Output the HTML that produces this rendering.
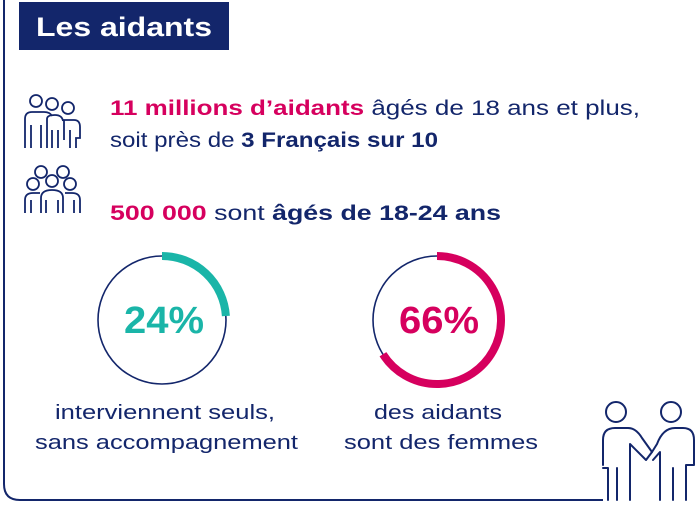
<!DOCTYPE html>
<html><head><meta charset="utf-8"><style>
html,body{margin:0;padding:0;background:#fff;}
svg{display:block;font-family:"Liberation Sans",sans-serif;}
</style></head><body>
<svg width="700" height="505" viewBox="0 0 700 505">
  <path d="M4 0 V484 Q4 500 20 500 H603" fill="none" stroke="#13266b" stroke-width="2"/>
  <rect x="19" y="2" width="210" height="48" fill="#13266b"/>
  <text x="36" y="36" font-size="27" font-weight="bold" fill="#fff" textLength="176" lengthAdjust="spacingAndGlyphs">Les aidants</text>

  <g fill="none" stroke="#13266b" stroke-width="1.8">
    <circle cx="36" cy="101" r="6"/><circle cx="52" cy="104" r="6"/><circle cx="68" cy="108" r="6"/>
    <path d="M25 148 V119 Q25 112 32 112 H44 Q50 112 52 116"/><path d="M31 125 V148 M41 125 V148"/>
    <path d="M47 148 V119 Q47 115 55 115 Q62 115 63 121"/><path d="M52 130 V148 M58 130 V148"/>
    <path d="M64 140 V120 H74 Q80 120 80 127 V138 H76 V148 M70 130 V148"/>
  </g>
  <g fill="none" stroke="#13266b" stroke-width="1.8">
    <circle cx="41" cy="172" r="6"/><circle cx="63" cy="172" r="6"/><circle cx="33" cy="184" r="6"/><circle cx="52" cy="181" r="6"/><circle cx="70" cy="184" r="6"/>
    <path d="M25 213 V200 Q25 193 33 193 H40 M31 200 V213"/>
    <path d="M41 213 V198 Q41 190 52 190 Q63 190 63 198 V213 M46 200 V213 M58 200 V213"/>
    <path d="M80 213 V200 Q80 193 72 193 H65 M74 200 V213"/>
  </g>

  <text x="110" y="115" font-size="21" fill="#13266b" textLength="530" lengthAdjust="spacingAndGlyphs"><tspan font-weight="bold" fill="#d6005e">11 millions d’aidants</tspan> âgés de 18 ans et plus,</text>
  <text x="110" y="147" font-size="21" fill="#13266b" textLength="328" lengthAdjust="spacingAndGlyphs">soit près de <tspan font-weight="bold">3 Français sur 10</tspan></text>
  <text x="110" y="220" font-size="21" fill="#13266b" textLength="391" lengthAdjust="spacingAndGlyphs"><tspan font-weight="bold" fill="#d6005e">500 000</tspan> sont <tspan font-weight="bold">âgés de 18-24 ans</tspan></text>

  <g id="donuts"></g>

  <text x="55" y="419" font-size="20" fill="#13266b" textLength="220" lengthAdjust="spacingAndGlyphs">interviennent seuls,</text>
  <text x="35" y="449" font-size="20" fill="#13266b" textLength="263" lengthAdjust="spacingAndGlyphs">sans accompagnement</text>
  <text x="374" y="419" font-size="20" fill="#13266b" textLength="128" lengthAdjust="spacingAndGlyphs">des aidants</text>
  <text x="344" y="449" font-size="20" fill="#13266b" textLength="194" lengthAdjust="spacingAndGlyphs">sont des femmes</text>

  <g fill="none" stroke="#13266b" stroke-width="2" stroke-linecap="round" stroke-linejoin="round">
    <circle cx="616" cy="412" r="10"/><circle cx="671" cy="412" r="10"/>
    <path d="M603 465 V440 Q603 428 615 428 H628 Q636 428 642 438 L652 452 L646 460 L630 444 V500"/>
    <path d="M603 468 H608 V500 M617 468 V500"/>
    <path d="M652 452 L657 444 Q663 428 675 428 H683 Q694 428 694 440 V465 H686 V500 M653 460 L660 452 V500 M673 468 V500"/>
  </g>
</svg>
<script>
const labels = ["24%", "66%"];
const values = [24, 66];
const colors = ["#1ab5a8", "#d6005e"];
const g = document.getElementById('donuts');
const ns = "http://www.w3.org/2000/svg";
const cxs = [162, 437], cy = 320, r = 64;
function pt(cx, frac){ const a = frac*2*Math.PI - Math.PI/2; return [cx + r*Math.cos(a), cy + r*Math.sin(a)]; }
values.forEach((v, i) => {
  const cx = cxs[i];
  const c = document.createElementNS(ns, 'circle');
  c.setAttribute('cx', cx); c.setAttribute('cy', cy); c.setAttribute('r', r);
  c.setAttribute('fill', 'none'); c.setAttribute('stroke', '#13266b'); c.setAttribute('stroke-width', '1.6');
  
  
  g.appendChild(c);
  const f = v/100;
  const [x1, y1] = pt(cx, 0), [x2, y2] = pt(cx, f);
  const p = document.createElementNS(ns, 'path');
  p.setAttribute('d', `M${x1} ${y1} A${r} ${r} 0 ${f > 0.5 ? 1 : 0} 1 ${x2} ${y2}`);
  p.setAttribute('fill', 'none'); p.setAttribute('stroke', colors[i]); p.setAttribute('stroke-width', '8');
  
  
  g.appendChild(p);
  const t = document.createElementNS(ns, 'text');
  t.setAttribute('x', cx + 2); t.setAttribute('y', cy + 13);
  t.setAttribute('text-anchor', 'middle'); t.setAttribute('font-size', '38'); t.setAttribute('font-weight', 'bold');
  t.setAttribute('fill', colors[i]);
  t.setAttribute('textLength', '80'); t.setAttribute('lengthAdjust', 'spacingAndGlyphs');
  t.textContent = labels[i];
  
  
  g.appendChild(t);
});
</script>
</body></html>
